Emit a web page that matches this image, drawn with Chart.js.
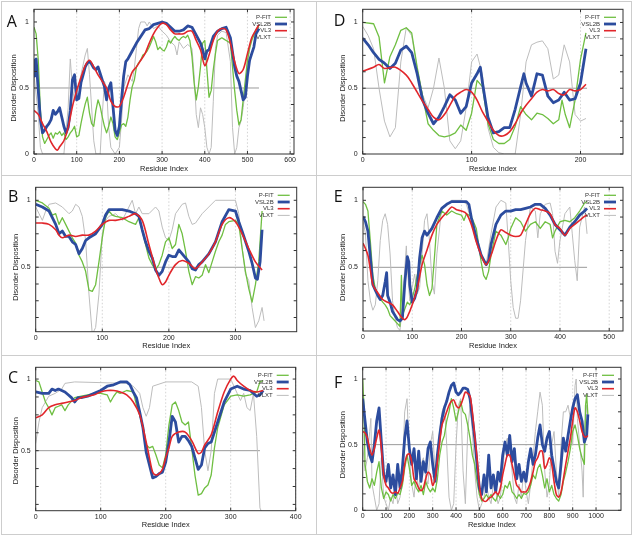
<!DOCTYPE html>
<html>
<head>
<meta charset="utf-8">
<script src="https://cdn.jsdelivr.net/npm/chart.js@4.4.1/dist/chart.umd.min.js"></script>
<style>
  body { margin: 0; background: #fff; }
  #wrap { position: relative; width: 634px; height: 537px; overflow: hidden; }
  #wrap canvas { position: absolute; }
  .rule { position: absolute; background: #cdcdcd; }
</style>
</head>
<body>
<div id="wrap">
  <div class="rule" style="left:1px;top:1px;width:630px;height:1px"></div>
  <div class="rule" style="left:1px;top:534px;width:630px;height:1px"></div>
  <div class="rule" style="left:1px;top:1px;width:1px;height:534px"></div>
  <div class="rule" style="left:631px;top:1px;width:1px;height:534px"></div>
  <div class="rule" style="left:316px;top:1px;width:1px;height:534px"></div>
  <div class="rule" style="left:1px;top:175px;width:630px;height:1px"></div>
  <div class="rule" style="left:1px;top:355px;width:630px;height:1px"></div>
</div>
<script>
// ---- data: [residue, disorder] ----
const A_PFIT = [[0,.96],[5,.91],[10,.71],[15,.33],[20,.13],[25,.08],[30,.11],[35,.14],[40,.16],[45,.12],[50,.16],[55,.15],[60,.17],[65,.14],[70,.16],[75,.11],[80,.13],[85,.16],[90,.18],[95,.21],[100,.13],[105,.14],[110,.23],[115,.31],[120,.38],[125,.43],[130,.31],[135,.23],[140,.21],[145,.33],[150,.41],[155,.36],[160,.28],[165,.21],[170,.16],[175,.21],[180,.28],[185,.23],[190,.13],[195,.11],[200,.16],[205,.22],[210,.23],[215,.21],[220,.28],[225,.41],[230,.51],[235,.56],[240,.66],[245,.69],[250,.71],[255,.75],[260,.76],[265,.78],[270,.81],[275,.85],[280,.89],[285,.85],[290,.79],[295,.81],[300,.79],[305,.78],[310,.81],[315,.86],[320,.84],[325,.87],[330,.89],[335,.87],[340,.86],[345,.88],[350,.89],[355,.88],[360,.9],[365,.86],[370,.74],[375,.54],[380,.41],[385,.51],[390,.66],[395,.84],[400,.86],[405,.64],[410,.43],[415,.48],[420,.64],[425,.76],[430,.86],[435,.87],[440,.88],[445,.87],[450,.86],[455,.85],[460,.84],[465,.66],[470,.48],[475,.33],[480,.22],[485,.26],[490,.41],[495,.56],[500,.71],[505,.8],[510,.86],[515,.9],[520,.94],[527,.96]];
const A_VSL2B = [[0,.59],[2,.71],[5,.72],[10,.48],[15,.26],[20,.16],[25,.18],[30,.21],[35,.23],[40,.26],[45,.33],[50,.3],[55,.32],[60,.35],[65,.28],[70,.21],[75,.16],[80,.2],[85,.33],[90,.56],[95,.6],[100,.41],[105,.42],[110,.54],[115,.6],[120,.66],[125,.69],[130,.7],[135,.68],[140,.65],[145,.64],[150,.66],[155,.61],[160,.56],[165,.51],[170,.41],[175,.5],[180,.54],[185,.36],[190,.18],[195,.14],[200,.21],[205,.41],[210,.59],[215,.7],[220,.72],[230,.78],[240,.84],[250,.89],[260,.94],[270,.95],[280,.98],[290,.99],[300,1.0],[310,.99],[320,.96],[330,.93],[340,.93],[350,.94],[360,.97],[370,.96],[380,.9],[390,.84],[395,.79],[400,.72],[405,.78],[410,.79],[420,.89],[430,.93],[440,.95],[450,.96],[460,.88],[470,.66],[475,.59],[480,.55],[485,.48],[490,.41],[495,.43],[500,.59],[505,.71],[510,.76],[515,.81],[520,.91],[527,.95]];
const A_VL3 = [[0,.33],[10,.3],[20,.23],[30,.17],[40,.09],[50,.04],[55,.03],[60,.055],[70,.1],[80,.2],[90,.36],[100,.48],[110,.58],[120,.67],[130,.71],[140,.66],[150,.6],[160,.55],[170,.5],[180,.4],[190,.36],[200,.36],[210,.43],[220,.53],[230,.62],[240,.66],[250,.71],[260,.76],[270,.84],[280,.91],[290,.96],[300,.99],[310,.98],[320,.94],[330,.91],[340,.91],[350,.91],[360,.93],[370,.93],[380,.86],[390,.79],[400,.67],[410,.75],[420,.86],[430,.93],[440,.95],[450,.94],[460,.84],[470,.7],[480,.61],[490,.64],[500,.76],[510,.88],[520,.94],[527,.98]];
const A_VLXT = [[0,.6],[10,.3],[15,.05],[20,0],[70,0],[80,.35],[85,.72],[90,.5],[95,.4],[100,.45],[110,.6],[120,.75],[125,.8],[130,.6],[140,.1],[145,0],[155,0],[160,.3],[165,.55],[170,.5],[175,.2],[180,.05],[190,0],[200,.05],[205,.25],[210,.5],[220,.6],[230,.55],[235,.65],[240,.8],[245,.95],[250,1.0],[260,1.0],[265,.97],[270,1.0],[280,.95],[290,.97],[300,.93],[310,.9],[320,.85],[330,.82],[335,.75],[340,.85],[350,.8],[360,.83],[370,.8],[375,.6],[380,.3],[385,.2],[390,.35],[395,.3],[400,.2],[405,.05],[410,0],[415,.05],[420,.4],[425,.8],[430,.9],[440,.93],[450,.92],[460,.7],[465,.2],[470,0],[475,.05],[480,.2],[485,.25],[490,.35],[495,.5],[500,.7],[510,.88],[520,.95],[527,.97]];
const A_LEN = 527;

const D_PFIT = [[0,1.0],[10,.99],[15,.89],[20,.54],[25,.74],[30,.83],[35,.94],[40,.96],[45,.92],[50,.66],[55,.44],[60,.23],[65,.18],[70,.14],[75,.13],[80,.14],[85,.16],[90,.22],[95,.18],[100,.31],[105,.56],[110,.51],[115,.23],[120,.11],[125,.08],[130,.08],[135,.11],[140,.21],[145,.36],[150,.3],[155,.26],[160,.31],[165,.3],[170,.27],[175,.23],[180,.26],[183,.41],[186,.3],[190,.2],[195,.41],[200,.72],[205,.92]];
const D_VSL2B = [[0,.88],[5,.83],[10,.77],[15,.72],[20,.69],[25,.65],[30,.69],[35,.79],[40,.82],[45,.77],[50,.61],[55,.41],[60,.31],[65,.23],[70,.28],[75,.36],[80,.45],[85,.41],[90,.31],[95,.36],[100,.54],[105,.61],[108,.66],[110,.54],[115,.28],[120,.16],[125,.17],[130,.2],[135,.2],[140,.34],[145,.51],[148,.61],[150,.54],[155,.44],[160,.61],[165,.6],[170,.44],[175,.39],[180,.41],[185,.47],[190,.41],[195,.42],[200,.54],[205,.8]];
const D_VL3 = [[0,.63],[10,.66],[15,.68],[20,.65],[30,.66],[40,.6],[45,.54],[50,.47],[55,.4],[60,.34],[65,.28],[70,.26],[75,.3],[80,.37],[85,.44],[90,.47],[95,.49],[100,.47],[105,.41],[110,.32],[115,.25],[120,.18],[125,.14],[130,.14],[135,.17],[140,.23],[145,.31],[150,.37],[155,.42],[160,.47],[165,.49],[170,.48],[175,.49],[180,.46],[185,.45],[190,.49],[195,.48],[200,.49],[205,.53]];
const D_VLXT = [[0,.97],[5,.9],[10,.8],[15,.5],[20,.25],[25,.13],[30,.2],[35,.7],[40,.96],[45,.9],[50,.65],[55,.45],[60,.35],[65,.5],[70,.73],[75,.5],[80,.1],[85,.04],[90,.1],[95,.35],[100,.7],[105,.76],[110,.6],[115,.2],[120,.05],[125,.01],[130,0],[140,0],[145,.3],[150,.7],[155,.83],[160,.85],[165,.86],[170,.8],[175,.57],[180,.6],[185,.83],[190,.7],[195,.3],[200,.25],[205,.27]];
const D_LEN = 206;

const B_PFIT = [[0,1.0],[10,.98],[20,.94],[25,.89],[30,.9],[35,.82],[40,.87],[45,.82],[50,.77],[55,.72],[60,.68],[65,.59],[70,.54],[75,.47],[80,.33],[85,.32],[90,.37],[95,.54],[100,.72],[105,.87],[110,.92],[115,.89],[120,.88],[130,.87],[140,.84],[150,.82],[155,.87],[160,.77],[165,.67],[170,.57],[175,.52],[180,.48],[185,.52],[190,.59],[195,.69],[200,.72],[205,.64],[210,.67],[215,.82],[220,.75],[225,.62],[230,.47],[235,.37],[240,.43],[245,.42],[250,.44],[255,.52],[260,.46],[265,.54],[270,.62],[275,.69],[280,.74],[285,.82],[290,.84],[300,.85],[305,.82],[310,.64],[315,.47],[320,.34],[325,.24],[330,.37],[335,.54],[340,.92]];
const B_VSL2B = [[0,.97],[10,.95],[20,.92],[25,.87],[30,.82],[35,.75],[40,.77],[45,.73],[50,.73],[55,.69],[60,.67],[65,.6],[70,.64],[75,.7],[80,.72],[90,.75],[100,.82],[105,.89],[110,.93],[120,.93],[130,.93],[140,.92],[150,.9],[155,.88],[160,.78],[165,.69],[170,.62],[175,.57],[180,.48],[185,.44],[190,.47],[195,.54],[200,.59],[205,.58],[210,.58],[215,.63],[220,.6],[225,.57],[230,.54],[235,.49],[240,.48],[245,.52],[250,.54],[260,.6],[270,.69],[280,.84],[290,.93],[300,.92],[305,.84],[310,.77],[320,.62],[325,.53],[330,.42],[333,.41],[337,.54],[340,.78]];
const B_VL3 = [[0,.83],[10,.83],[20,.82],[30,.78],[35,.74],[40,.72],[50,.74],[60,.73],[70,.74],[80,.74],[90,.77],[100,.82],[110,.85],[120,.85],[130,.86],[140,.88],[150,.9],[160,.85],[170,.67],[180,.49],[185,.42],[190,.37],[195,.39],[200,.44],[210,.52],[220,.55],[230,.53],[240,.49],[250,.54],[260,.6],[270,.69],[280,.82],[290,.87],[300,.84],[310,.75],[320,.64],[330,.54],[340,.48]];
const B_VLXT = [[0,.95],[5,.9],[10,.85],[15,.92],[20,.97],[30,.98],[40,.95],[50,.9],[55,.92],[60,.97],[65,.95],[70,.88],[75,.7],[80,.3],[85,0],[90,.05],[95,.3],[100,.75],[105,.85],[110,.88],[120,.9],[130,.85],[140,.95],[145,1.0],[150,.9],[155,.95],[160,.9],[170,.9],[180,.95],[185,.92],[190,.8],[195,.72],[200,.7],[205,.78],[210,.9],[220,.97],[225,.98],[230,.88],[235,.82],[240,.83],[250,.9],[260,.95],[270,1.0],[300,1.0],[305,.9],[310,.65],[315,.45],[320,.4],[325,.2],[330,.05],[335,.1],[340,.2],[343,.1]];
const B_LEN = 336;

const E_PFIT = [[0,.99],[5,.97],[10,.92],[15,.69],[20,.44],[25,.34],[30,.29],[40,.24],[45,.22],[50,.19],[55,.14],[60,.12],[70,.08],[75,.06],[78,.44],[80,.14],[85,.19],[90,.24],[95,.22],[100,.27],[105,.34],[110,.44],[115,.52],[120,.59],[125,.52],[130,.37],[135,.29],[140,.34],[145,.57],[150,.82],[160,.92],[170,.89],[180,.92],[190,.9],[200,.89],[205,.85],[210,.9],[220,.88],[230,.79],[240,.54],[245,.44],[250,.41],[255,.47],[260,.59],[270,.77],[280,.74],[290,.67],[295,.72],[300,.79],[310,.87],[320,.84],[330,.77],[340,.82],[350,.84],[360,.79],[370,.84],[380,.82],[385,.72],[390,.77],[400,.84],[410,.85],[420,.84],[430,.87],[440,.92],[450,.98],[455,.99]];
const E_VSL2B = [[0,.88],[5,.84],[10,.77],[15,.57],[20,.37],[25,.33],[30,.29],[35,.26],[40,.29],[45,.39],[48,.46],[50,.29],[55,.24],[60,.17],[65,.14],[70,.11],[75,.1],[80,.12],[85,.39],[90,.58],[93,.54],[95,.37],[100,.24],[105,.27],[110,.34],[115,.57],[120,.72],[125,.77],[130,.74],[140,.79],[150,.87],[160,.94],[170,.97],[180,.99],[190,.99],[200,.99],[210,.99],[215,.97],[220,.87],[230,.72],[240,.59],[250,.52],[255,.55],[260,.67],[270,.82],[280,.89],[290,.92],[300,.92],[310,.93],[320,.93],[330,.94],[340,.95],[350,.97],[360,.97],[370,.94],[380,.89],[390,.82],[400,.78],[410,.74],[420,.8],[430,.84],[440,.89],[450,.92],[455,.94]];
const E_VL3 = [[0,.68],[5,.64],[10,.59],[15,.48],[20,.37],[30,.31],[40,.26],[50,.24],[60,.22],[70,.17],[80,.12],[85,.11],[90,.13],[100,.22],[110,.34],[120,.52],[130,.63],[140,.74],[150,.82],[160,.87],[170,.91],[180,.95],[190,.93],[200,.92],[210,.9],[220,.82],[230,.69],[240,.59],[250,.52],[260,.59],[270,.7],[280,.78],[290,.76],[300,.74],[310,.73],[320,.74],[330,.82],[340,.9],[350,.94],[360,.93],[370,.92],[380,.9],[390,.82],[400,.79],[410,.74],[420,.79],[430,.82],[440,.85],[450,.88],[455,.89]];
const E_VLXT = [[0,.85],[5,.75],[10,.4],[15,.25],[20,.18],[25,.22],[30,.4],[35,.7],[40,.85],[45,.9],[50,.82],[55,.6],[60,.25],[65,.12],[70,.05],[75,.03],[80,.2],[85,.5],[88,.66],[90,.5],[95,.25],[100,.35],[105,.45],[110,.3],[115,.35],[120,.6],[125,.85],[130,.9],[135,.7],[140,.4],[145,.3],[150,.6],[160,.95],[170,.97],[180,1.0],[200,1.0],[210,.97],[220,.85],[230,.72],[240,.58],[250,.52],[260,.75],[270,.95],[280,1.0],[290,.98],[295,.7],[300,.4],[305,.2],[310,.12],[315,.12],[320,.25],[330,.7],[340,.95],[350,.92],[355,.72],[360,.9],[370,.97],[380,.98],[385,.9],[390,.62],[395,.53],[400,.7],[410,.9],[420,.95],[425,.75],[430,.55],[435,.4],[440,.8],[450,.95],[455,.75]];
const E_LEN = 455;

const C_PFIT = [[0,.99],[5,.98],[10,.91],[15,.84],[20,.8],[25,.75],[30,.8],[35,.81],[40,.82],[45,.78],[50,.82],[60,.87],[70,.88],[80,.89],[90,.9],[100,.9],[110,.89],[115,.84],[120,.88],[125,.91],[130,.9],[140,.92],[150,.91],[155,.82],[160,.75],[165,.66],[170,.54],[175,.52],[180,.53],[185,.47],[190,.4],[195,.38],[200,.47],[205,.68],[210,.82],[215,.84],[220,.78],[225,.7],[230,.68],[235,.7],[240,.52],[245,.33],[250,.19],[255,.2],[260,.24],[265,.26],[270,.33],[275,.52],[280,.66],[290,.82],[300,.88],[310,.89],[320,.88],[330,.89],[340,.91],[345,.98],[350,.99]];
const C_VSL2B = [[0,.91],[10,.9],[20,.9],[25,.93],[30,.92],[35,.93],[40,.92],[45,.91],[50,.89],[55,.87],[60,.84],[65,.87],[70,.87],[80,.88],[90,.9],[100,.92],[110,.95],[120,.96],[130,.98],[140,.98],[145,.96],[150,.91],[155,.87],[160,.77],[165,.66],[170,.49],[175,.4],[180,.31],[185,.32],[190,.34],[195,.35],[200,.42],[205,.56],[210,.74],[215,.7],[220,.56],[225,.6],[230,.6],[235,.57],[240,.53],[245,.45],[250,.37],[255,.4],[260,.52],[265,.55],[270,.56],[280,.7],[290,.84],[300,.93],[310,.95],[320,.93],[330,.92],[340,.88],[345,.89],[350,.92]];
const C_VL3 = [[0,.73],[10,.75],[20,.8],[30,.82],[40,.83],[50,.84],[60,.85],[70,.87],[80,.88],[90,.89],[100,.91],[110,.92],[120,.92],[130,.91],[140,.89],[150,.84],[160,.75],[170,.56],[175,.45],[180,.35],[185,.33],[190,.34],[195,.37],[200,.45],[205,.52],[210,.6],[220,.63],[230,.63],[240,.57],[250,.48],[255,.49],[260,.54],[270,.61],[280,.77],[290,.91],[300,1.0],[305,1.02],[310,.99],[320,.95],[330,.92],[340,.91],[350,.92]];
const C_VLXT = [[0,.55],[5,.7],[10,.8],[20,.88],[30,.9],[40,.93],[45,.97],[60,.98],[140,.97],[150,.95],[160,.9],[165,.8],[170,.74],[175,.8],[180,.95],[200,.98],[240,.98],[250,.95],[255,.8],[260,.5],[265,.36],[270,.5],[275,.9],[280,1.0],[300,1.0],[310,.9],[315,.85],[320,.9],[325,.8],[330,.78],[335,.9],[340,.6],[345,.1],[350,.05]];
const C_LEN = 345;

const F_PFIT = [[0,1.0],[5,.8],[10,.35],[20,.22],[30,.17],[40,.24],[50,.19],[60,.29],[70,.37],[80,.17],[90,.09],[100,.14],[110,.12],[120,.07],[130,.12],[140,.09],[150,.13],[160,.12],[170,.19],[180,.32],[190,.42],[200,.32],[210,.19],[220,.22],[230,.17],[240,.14],[250,.19],[260,.12],[270,.22],[280,.17],[290,.14],[300,.17],[310,.14],[320,.24],[330,.42],[340,.52],[350,.57],[360,.68],[370,.75],[380,.85],[390,.78],[400,.68],[410,.75],[420,.83],[430,.75],[440,.73],[450,.65],[460,.55],[470,.42],[480,.35],[490,.22],[500,.12],[510,.07],[520,.09],[530,.12],[540,.09],[550,.12],[560,.09],[570,.07],[580,.12],[590,.09],[600,.12],[610,.19],[620,.17],[630,.22],[640,.14],[650,.12],[660,.09],[670,.12],[680,.09],[690,.13],[700,.12],[710,.14],[720,.19],[730,.27],[740,.24],[750,.32],[760,.35],[770,.27],[780,.17],[790,.24],[800,.14],[810,.19],[820,.12],[830,.09],[840,.07],[850,.12],[860,.22],[870,.29],[880,.37],[890,.47],[900,.6],[910,.65],[920,.57],[930,.47],[940,.4],[950,.35],[955,.8],[960,.88],[965,.73]];
const F_VSL2B = [[0,.85],[10,.68],[20,.52],[30,.42],[40,.37],[50,.5],[60,.68],[70,.78],[80,.52],[90,.27],[100,.22],[110,.35],[120,.17],[130,.27],[140,.12],[150,.35],[160,.17],[170,.32],[180,.55],[190,.68],[200,.47],[210,.35],[220,.47],[230,.24],[240,.45],[250,.22],[260,.37],[270,.29],[280,.47],[290,.52],[300,.35],[310,.22],[320,.42],[330,.57],[340,.7],[350,.78],[360,.83],[370,.9],[380,.95],[390,.97],[400,.9],[410,.88],[420,.9],[430,.93],[440,.93],[450,.92],[460,.85],[470,.7],[480,.55],[490,.35],[500,.17],[510,.12],[520,.27],[530,.14],[540,.42],[550,.17],[560,.27],[570,.14],[580,.29],[590,.22],[600,.42],[610,.52],[620,.42],[630,.57],[640,.37],[650,.47],[660,.24],[670,.35],[680,.22],[690,.29],[700,.22],[710,.37],[720,.47],[730,.35],[740,.42],[750,.55],[760,.65],[770,.5],[780,.45],[790,.55],[800,.6],[810,.42],[820,.32],[830,.22],[840,.17],[850,.35],[860,.55],[870,.45],[880,.57],[890,.68],[900,.78],[910,.85],[920,.88],[930,.75],[940,.68],[950,.52],[960,.57],[965,.73]];
const F_VL3 = [[0,.6],[10,.59],[20,.55],[30,.47],[40,.42],[50,.47],[60,.55],[70,.61],[80,.47],[90,.27],[100,.19],[110,.17],[120,.14],[130,.13],[140,.14],[150,.13],[160,.17],[170,.22],[180,.35],[190,.42],[200,.43],[210,.37],[220,.24],[230,.21],[240,.17],[250,.15],[260,.17],[270,.24],[280,.29],[290,.27],[300,.19],[310,.24],[320,.37],[330,.52],[340,.65],[350,.7],[360,.75],[370,.8],[380,.83],[390,.84],[400,.8],[410,.78],[420,.8],[430,.85],[440,.9],[450,.89],[460,.87],[470,.75],[480,.57],[490,.4],[500,.19],[510,.09],[520,.07],[530,.07],[540,.09],[550,.1],[560,.12],[570,.14],[580,.12],[590,.17],[600,.27],[610,.35],[620,.42],[630,.42],[640,.35],[650,.27],[660,.19],[670,.17],[680,.14],[690,.14],[700,.14],[710,.17],[720,.22],[730,.29],[740,.37],[750,.4],[760,.45],[770,.45],[780,.32],[790,.35],[800,.4],[810,.35],[820,.22],[830,.12],[840,.1],[850,.14],[860,.24],[870,.35],[880,.45],[890,.55],[900,.68],[910,.78],[920,.75],[930,.68],[940,.6],[950,.56],[960,.56],[965,.57]];
const F_VLXT = [[0,.5],[10,.3],[20,.4],[30,.6],[35,.7],[40,.2],[50,.1],[60,0],[70,.05],[80,.4],[90,.1],[100,.05],[110,0],[120,.1],[130,.05],[140,.2],[150,.05],[160,.1],[170,.3],[180,.75],[190,.85],[200,.4],[210,.2],[220,.1],[230,.3],[240,.15],[250,.35],[260,.4],[270,.25],[280,.2],[290,.5],[300,.6],[310,.3],[320,.4],[330,.6],[340,.75],[350,.8],[360,.5],[370,.1],[380,0],[390,.05],[400,.5],[410,.8],[420,.85],[430,.3],[440,.05],[450,.6],[460,.8],[470,.6],[480,.3],[490,.1],[500,0],[510,.05],[520,.1],[530,.2],[540,.1],[550,.05],[560,.2],[570,.15],[580,.05],[590,.1],[600,.3],[610,.5],[620,.55],[630,.45],[640,.3],[650,.1],[660,.05],[670,.2],[680,.1],[690,.3],[700,.15],[710,.05],[720,.2],[730,.4],[740,.6],[750,.75],[760,.9],[770,.8],[780,.3],[790,.1],[800,.2],[810,.5],[820,.6],[830,.3],[840,.1],[850,.5],[860,.75],[870,.75],[880,.8],[890,.7],[900,.5],[910,.95],[915,1.0],[920,.7],[930,.5],[940,.3],[945,.1],[950,.6],[960,.8],[965,.65]];
const F_LEN = 964;

// ---- styles ----
const SERIES = [
  { key: 'vl3',   label: 'VL3',   color: '#e1262b', width: 1.6, tension: 0.3 },
  { key: 'vsl2b', label: 'VSL2B', color: '#2c4c9e', width: 2.8, tension: 0 },
  { key: 'pfit',  label: 'P-FIT', color: '#6fbf42', width: 1.3, tension: 0 },
  { key: 'vlxt',  label: 'VLXT',  color: '#bdbdbd', width: 1.0, tension: 0 }
];
const LEGEND_ORDER = ['pfit', 'vsl2b', 'vl3', 'vlxt'];
const FONT = '"Liberation Sans", Arial, sans-serif';

// canvas box (page px) and chart area inside it (canvas px)
const PANELS = [
  { letter: 'A', x: 0,   y: 0,   w: 316, h: 175, left: 34,   right: 294,   top: 9.3,  bottom: 154,   xMax: 609,  xTickMax: 600,  yMin: 0,     yMax: 1.096, lx: 6.7,  ly: 26.7,
    data: { pfit: A_PFIT, vsl2b: A_VSL2B, vl3: A_VL3, vlxt: A_VLXT }, len: A_LEN },
  { letter: 'D', x: 317, y: 0,   w: 317, h: 175, left: 45.7, right: 306,   top: 9.3,  bottom: 154,   xMax: 239,  xTickMax: 200,  yMin: 0,     yMax: 1.1,   lx: 16.7, ly: 26,
    data: { pfit: D_PFIT, vsl2b: D_VSL2B, vl3: D_VL3, vlxt: D_VLXT }, len: D_LEN },
  { letter: 'B', x: 0,   y: 175, w: 316, h: 180, left: 35.7, right: 296.7, top: 12.3, bottom: 156.7, xMax: 392,  xTickMax: 300,  yMin: 0.019, yMax: 1.097, lx: 8,    ly: 26.7,
    data: { pfit: B_PFIT, vsl2b: B_VSL2B, vl3: B_VL3, vlxt: B_VLXT }, len: B_LEN },
  { letter: 'E', x: 317, y: 175, w: 317, h: 180, left: 46,   right: 306,   top: 12.3, bottom: 156,   xMax: 528,  xTickMax: 500,  yMin: 0.025, yMax: 1.097, lx: 16.7, ly: 26.7,
    data: { pfit: E_PFIT, vsl2b: E_VSL2B, vl3: E_VL3, vlxt: E_VLXT }, len: E_LEN },
  { letter: 'C', x: 0,   y: 355, w: 316, h: 182, left: 35.7, right: 295.7, top: 12.3, bottom: 155.7, xMax: 400,  xTickMax: 400,  yMin: 0.081, yMax: 1.082, lx: 8,    ly: 28,
    data: { pfit: C_PFIT, vsl2b: C_VSL2B, vl3: C_VL3, vlxt: C_VLXT }, len: C_LEN },
  { letter: 'F', x: 317, y: 355, w: 317, h: 182, left: 45.7, right: 304,   top: 12.3, bottom: 155.3, xMax: 1107, xTickMax: 1000, yMin: 0,     yMax: 1.089, lx: 17,   ly: 33,
    data: { pfit: F_PFIT, vsl2b: F_VSL2B, vl3: F_VL3, vlxt: F_VLXT }, len: F_LEN }
];

// gnuplot-like frame, inward ticks, dotted grid, titles, legend
const framePlugin = {
  id: 'frame',
  beforeDatasetsDraw(chart) {
    const { ctx, chartArea: a, scales: { x } } = chart;
    ctx.save();
    ctx.strokeStyle = '#c8c8c8';
    ctx.lineWidth = 0.8;
    ctx.setLineDash([1.5, 2]);
    x.ticks.forEach(t => {
      if (t.value <= 0) return;
      const px = x.getPixelForValue(t.value);
      ctx.beginPath();
      ctx.moveTo(px, a.top);
      ctx.lineTo(px, a.bottom);
      ctx.stroke();
    });
    ctx.restore();
  },
  afterDatasetsDraw(chart, args, opts) {
    const { ctx, chartArea: a, scales: { x, y } } = chart;
    ctx.save();
    ctx.strokeStyle = '#333';
    ctx.lineWidth = 1;
    ctx.strokeRect(a.left, a.top, a.right - a.left, a.bottom - a.top);

    // tick marks on all four sides
    ctx.beginPath();
    x.ticks.forEach(t => {
      const px = x.getPixelForValue(t.value);
      ctx.moveTo(px, a.bottom); ctx.lineTo(px, a.bottom - 3);
      ctx.moveTo(px, a.top); ctx.lineTo(px, a.top + 3);
    });
    for (let v = Math.ceil(y.min / 0.125) * 0.125; v <= y.max; v += 0.125) {
      const py = y.getPixelForValue(v);
      ctx.moveTo(a.left, py); ctx.lineTo(a.left + 3, py);
      ctx.moveTo(a.right, py); ctx.lineTo(a.right - 3, py);
    }
    ctx.stroke();

    // axis titles
    ctx.fillStyle = '#222';
    ctx.font = '7.5px ' + FONT;
    ctx.textAlign = 'center';
    ctx.textBaseline = 'middle';
    ctx.fillText('Residue Index', (a.left + a.right) / 2, a.bottom + 14.5);
    ctx.save();
    ctx.translate(a.left - 20, y.getPixelForValue(0.5));
    ctx.rotate(-Math.PI / 2);
    ctx.fillText('Disorder Disposition', 0, 0);
    ctx.restore();

    // legend
    ctx.font = '6px ' + FONT;
    ctx.textAlign = 'right';
    LEGEND_ORDER.forEach((key, i) => {
      const s = SERIES.find(d => d.key === key);
      const ly = a.top + 8 + i * 6.7;
      ctx.fillStyle = '#333';
      ctx.fillText(s.label, a.right - 23, ly);
      ctx.strokeStyle = s.color;
      ctx.lineWidth = s.width;
      ctx.beginPath();
      ctx.moveTo(a.right - 19, ly);
      ctx.lineTo(a.right - 7, ly);
      ctx.stroke();
    });

    // panel letter
    ctx.fillStyle = '#111';
    ctx.font = '16px "Open Sans", sans-serif';
    ctx.textAlign = 'left';
    ctx.textBaseline = 'alphabetic';
    ctx.fillText(opts.letter, opts.lx, opts.ly);
    ctx.restore();
  }
};

const wrap = document.getElementById('wrap');

PANELS.forEach(p => {
  const cv = document.createElement('canvas');
  cv.width = p.w; cv.height = p.h;
  cv.style.left = p.x + 'px'; cv.style.top = p.y + 'px';
  cv.style.width = p.w + 'px'; cv.style.height = p.h + 'px';
  wrap.insertBefore(cv, wrap.firstChild);

  const datasets = SERIES.map(s => ({
    label: s.label,
    data: p.data[s.key].map(([x, y]) => ({ x, y })),
    borderColor: s.color,
    borderWidth: s.width,
    tension: s.tension,
    pointRadius: 0,
    borderJoinStyle: 'round',
    fill: false
  }));
  datasets.push({
    label: 'half',
    data: [{ x: 0, y: 0.5 }, { x: p.len, y: 0.5 }],
    borderColor: '#9a9a9a',
    borderWidth: 1,
    pointRadius: 0,
    fill: false
  });

  const xTicks = [];
  for (let v = 0; v <= p.xTickMax; v += 100) xTicks.push({ value: v });
  const yTicks = [0, 0.5, 1].filter(v => v >= p.yMin - 1e-9).map(v => ({ value: v }));
  const tickFont = { family: FONT, size: 7 };

  new Chart(cv, {
    type: 'line',
    data: { datasets },
    options: {
      responsive: false,
      animation: false,
      devicePixelRatio: 1,
      layout: { padding: { left: 0, top: p.top, right: p.w - p.right, bottom: 0 } },
      plugins: {
        legend: { display: false },
        tooltip: { enabled: false },
        frame: { letter: p.letter, lx: p.lx, ly: p.ly }
      },
      scales: {
        x: {
          type: 'linear', min: 0, max: p.xMax,
          grid: { display: false, drawTicks: false }, border: { display: false },
          ticks: { font: tickFont, color: '#222', padding: 2, maxRotation: 0, autoSkip: false,
                   callback: v => String(v) },
          afterBuildTicks: s => { s.ticks = xTicks; },
          afterFit: s => { s.height = p.h - p.bottom; }
        },
        y: {
          type: 'linear', min: p.yMin, max: p.yMax,
          grid: { display: false, drawTicks: false }, border: { display: false },
          ticks: { font: tickFont, color: '#222', padding: 5, autoSkip: false,
                   callback: v => String(v) },
          afterBuildTicks: s => { s.ticks = yTicks; },
          afterFit: s => { s.width = p.left; }
        }
      }
    },
    plugins: [framePlugin]
  });
});
</script>
</body>
</html>
